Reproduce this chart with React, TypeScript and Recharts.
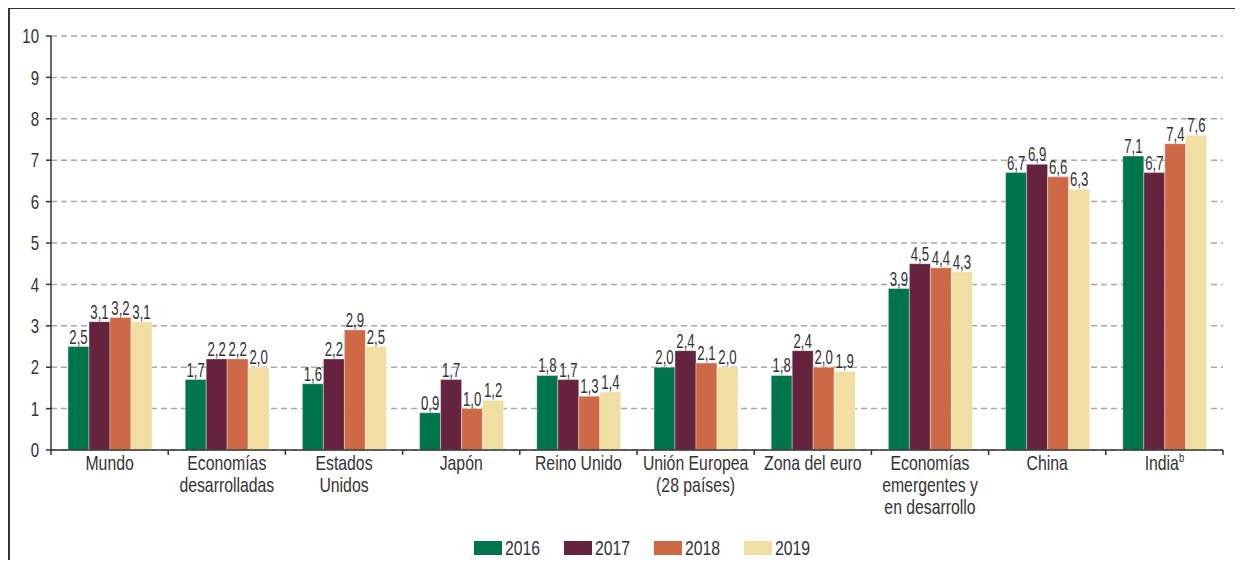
import React from "react";
import { BarChart, Bar, XAxis, YAxis, CartesianGrid, LabelList, Legend } from "recharts";

const categories = [
  "Mundo",
  "Economías\ndesarrolladas",
  "Estados\nUnidos",
  "Japón",
  "Reino Unido",
  "Unión Europea\n(28 países)",
  "Zona del euro",
  "Economías\nemergentes y\nen desarrollo",
  "China",
  "India",
];
const footnotes = ["", "", "", "", "", "", "", "", "", "b"];

const s2016 = [2.5, 1.7, 1.6, 0.9, 1.8, 2.0, 1.8, 3.9, 6.7, 7.1];
const s2017 = [3.1, 2.2, 2.2, 1.7, 1.7, 2.4, 2.4, 4.5, 6.9, 6.7];
const s2018 = [3.2, 2.2, 2.9, 1.0, 1.3, 2.1, 2.0, 4.4, 6.6, 7.4];
const s2019 = [3.1, 2.0, 2.5, 1.2, 1.4, 2.0, 1.9, 4.3, 6.3, 7.6];

const seriesNames = ["2016", "2017", "2018", "2019"];
const seriesColors = ["#00744A", "#66233E", "#CD6A45", "#F0DEA2"];
const yTicks = [0, 1, 2, 3, 4, 5, 6, 7, 8, 9, 10];

const data = categories.map((c, i) => ({
  name: c,
  idx: i,
  y2016: s2016[i],
  y2017: s2017[i],
  y2018: s2018[i],
  y2019: s2019[i],
}));
const seriesKeys = ["y2016", "y2017", "y2018", "y2019"];

const FONT = "'Liberation Sans', Arial, sans-serif";
const TEXT = "#333333";
const BAND = 117.2;

const fmt = (v: any) => Number(v).toFixed(1).replace(".", ",");

const CatTick = (props: any) => {
  const { x, y, payload, index } = props;
  const i = payload && typeof payload.index === "number" ? payload.index : index;
  const half = payload && payload.offset ? payload.offset : BAND / 2;
  const lines = String(payload.value).split("\n");
  const sup = footnotes[i] || "";
  return (
    <g>
      <line x1={x - half} x2={x - half} y1={y} y2={y + 5} stroke={TEXT} strokeWidth={1.5} />
      {i === categories.length - 1 && (
        <line x1={x + half} x2={x + half} y1={y} y2={y + 5} stroke={TEXT} strokeWidth={1.5} />
      )}
      <g transform={`translate(${x},${y + 20}) scale(0.79,1)`}>
        <text x={0} y={0} textAnchor="middle" fill={TEXT} fontSize={20} fontFamily={FONT}>
          {lines.map((l, k) => (
            <tspan key={k} x={0} dy={k === 0 ? 0 : 22}>
              {l}
              {k === lines.length - 1 && sup ? (
                <tspan fontSize={12} dy={-8}>{sup}</tspan>
              ) : null}
            </tspan>
          ))}
        </text>
      </g>
    </g>
  );
};

const YTick = (props: any) => {
  const { x, y, payload } = props;
  return (
    <g transform={`translate(${x},${y}) scale(0.75,1)`}>
      <text x={0} y={0} dy="0.36em" textAnchor="end" fill={TEXT} fontSize={20} fontFamily={FONT}>
        {payload.value}
      </text>
    </g>
  );
};

const BarLabel = (props: any) => {
  const { x, y, width, value } = props;
  const cx = Number(x) + Number(width) / 2;
  return (
    <g transform={`translate(${cx},${Number(y) - 3}) scale(0.66,1)`}>
      <text x={0} y={0} textAnchor="middle" fill={TEXT} fontSize={20} fontFamily={FONT}>
        {fmt(value)}
      </text>
    </g>
  );
};

const LegendContent = () => (
  <div style={{ display: "flex", alignItems: "center", height: 22, fontFamily: FONT, fontSize: 20, color: TEXT }}>
    {seriesNames.map((n, i) => (
      <div key={n} style={{ display: "flex", alignItems: "center", width: 90 }}>
        <div style={{ width: 28, height: 14, background: seriesColors[i], marginRight: 3, flex: "none" }} />
        <span style={{ display: "inline-block", transform: "scale(0.79,1)", transformOrigin: "left center", whiteSpace: "nowrap" }}>
          {n}
        </span>
      </div>
    ))}
  </div>
);

export default function App() {
  return (
    <div style={{ position: "relative", width: 1227, height: 552 }}>
      <style>{`body{overflow:hidden;}`}</style>
      <div
        style={{
          position: "absolute",
          left: 0,
          top: -1,
          width: 1240,
          height: 600,
          borderTop: "2px solid #333",
          borderLeft: "2px solid #333",
          boxSizing: "border-box",
        }}
      />
      <div style={{ position: "absolute", left: 0, top: 0 }}>
        <BarChart
          width={1227}
          height={552}
          data={data}
          margin={{ top: 28, right: 12, left: 0, bottom: 13 }}
          barCategoryGap="14.5%"
          barGap={0}
        >
          <CartesianGrid vertical={false} stroke="#a8a8a8" strokeDasharray="6 4" strokeWidth={1.5} />
          <XAxis
            dataKey="name"
            interval={0}
            tickLine={false}
            tickSize={0}
            tickMargin={0}
            height={75}
            axisLine={{ stroke: TEXT, strokeWidth: 1.5 }}
            tick={<CatTick />}
          />
          <YAxis
            width={43}
            domain={[0, 10]}
            ticks={yTicks}
            interval={0}
            tickSize={5}
            tickMargin={7}
            axisLine={{ stroke: TEXT, strokeWidth: 1.5 }}
            tickLine={{ stroke: TEXT, strokeWidth: 1.5 }}
            tick={<YTick />}
          />
          <Legend
            content={<LegendContent />}
            wrapperStyle={{ position: "absolute", top: 529, left: 466, width: 380, height: 22 }}
          />
          {seriesKeys.map((k, i) => (
            <Bar
              key={k}
              dataKey={k}
              name={seriesNames[i]}
              fill={seriesColors[i]}
              stroke="rgba(255,255,255,0.5)"
              strokeWidth={0.75}
              isAnimationActive={false}
            >
              <LabelList dataKey={k} content={<BarLabel />} />
            </Bar>
          ))}
        </BarChart>
      </div>
    </div>
  );
}
